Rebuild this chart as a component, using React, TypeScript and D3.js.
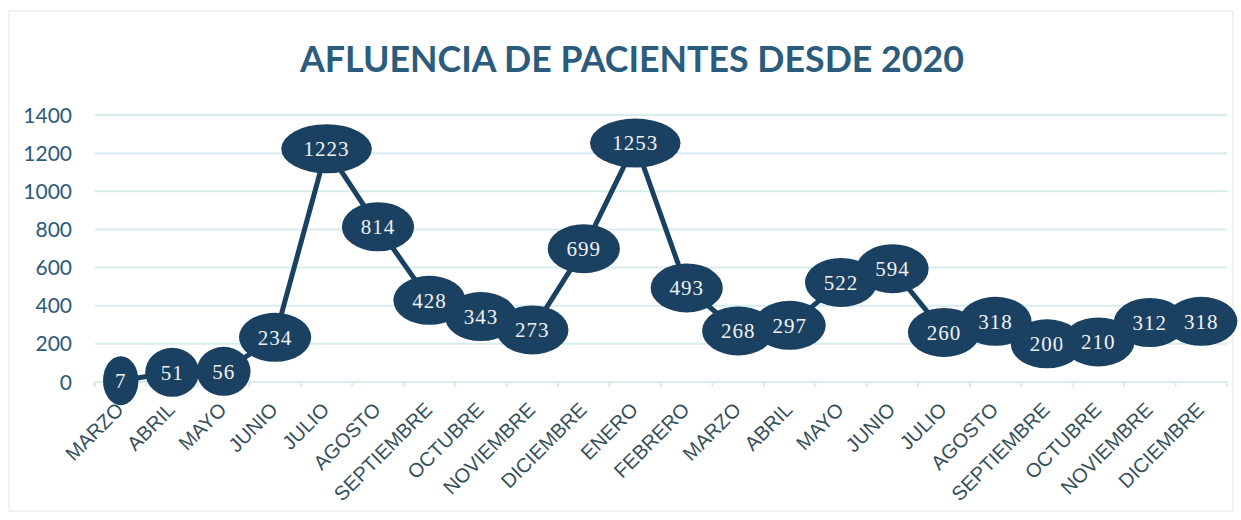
import * as d3 from 'd3'

const TITLE = 'AFLUENCIA DE PACIENTES DESDE 2020'
const MONTHS = [
  'MARZO', 'ABRIL', 'MAYO', 'JUNIO', 'JULIO', 'AGOSTO', 'SEPTIEMBRE', 'OCTUBRE', 'NOVIEMBRE', 'DICIEMBRE',
  'ENERO', 'FEBRERO', 'MARZO', 'ABRIL', 'MAYO', 'JUNIO', 'JULIO', 'AGOSTO', 'SEPTIEMBRE', 'OCTUBRE',
  'NOVIEMBRE', 'DICIEMBRE',
]
const PATIENTS = [7, 51, 56, 234, 1223, 814, 428, 343, 273, 699, 1253, 493, 268, 297, 522, 594, 260, 318, 200, 210, 312, 318]
const Y_TICKS = [0, 200, 400, 600, 800, 1000, 1200, 1400]

const W = 1241
const H = 520
const NAVY = '#1a4161'
const GRID = '#d7ecee'

export default function App() {
  const idx = d3.range(MONTHS.length)
  const x = d3.scaleBand<number>().domain(idx).range([95, 1227])
  const y = d3.scaleLinear().domain([0, 1400]).range([382, 115])
  const cx = (i: number) => (x(i) as number) + x.bandwidth() / 2

  const line = d3.line<number>()
    .x((_, i) => cx(i))
    .y(d => y(d))

  // band edges for the small tick marks under the axis
  const edges = idx.map(i => x(i) as number).concat([x.range()[1]])

  return (
    <div style={{ position: 'fixed', left: 0, top: 0 }}>
      <svg width={W} height={H} style={{ display: 'block', background: '#fff' }}>
        <rect x={9} y={11} width={1224} height={500} fill="none" stroke="#f2f2f2" strokeWidth={2} />

        <text
          x={632} y={72} textAnchor="middle"
          fontFamily="Lato, 'Open Sans', sans-serif" fontWeight={700} fontSize={36}
          fill="#2b5c7d" textLength={664} lengthAdjust="spacingAndGlyphs"
        >
          {TITLE}
        </text>

        {/* gridlines */}
        {Y_TICKS.map(t => (
          <line key={t} x1={x.range()[0]} x2={x.range()[1]} y1={y(t)} y2={y(t)}
            stroke={GRID} strokeWidth={2} />
        ))}
        {edges.map((e, i) => (
          <line key={i} x1={e} x2={e} y1={y(0)} y2={y(0) + 5} stroke={GRID} strokeWidth={2} />
        ))}

        {/* y labels */}
        {Y_TICKS.map(t => (
          <text key={t} x={72} y={y(t)} dy="0.36em" textAnchor="end"
            fontFamily="Lato, 'Open Sans', sans-serif" fontSize={21} fill="#2c5a78">
            {t}
          </text>
        ))}

        {/* x labels */}
        {MONTHS.map((m, i) => (
          <text key={i} transform={`translate(${cx(i) + 4},${411}) rotate(-45)`} textAnchor="end"
            fontFamily="'Liberation Sans', Arial, sans-serif" fontSize={20} fill="#34505a">
            {m}
          </text>
        ))}

        <path d={line(PATIENTS) ?? ''} fill="none" stroke={NAVY} strokeWidth={5} strokeLinejoin="round" />

        {PATIENTS.map((v, i) => {
          const n = String(v).length
          const rx = 9.2 * n + 8.5
          return (
            <g key={i} transform={`translate(${cx(i)},${y(v)})`}>
              <ellipse rx={rx} ry={24.5} fill={NAVY} />
              <text textAnchor="middle" dy="0.35em"
                fontFamily="'Liberation Serif', 'DejaVu Serif', serif" fontSize={21}
                letterSpacing={1} fill="#f2f2f2">
                {v}
              </text>
            </g>
          )
        })}
      </svg>
    </div>
  )
}
